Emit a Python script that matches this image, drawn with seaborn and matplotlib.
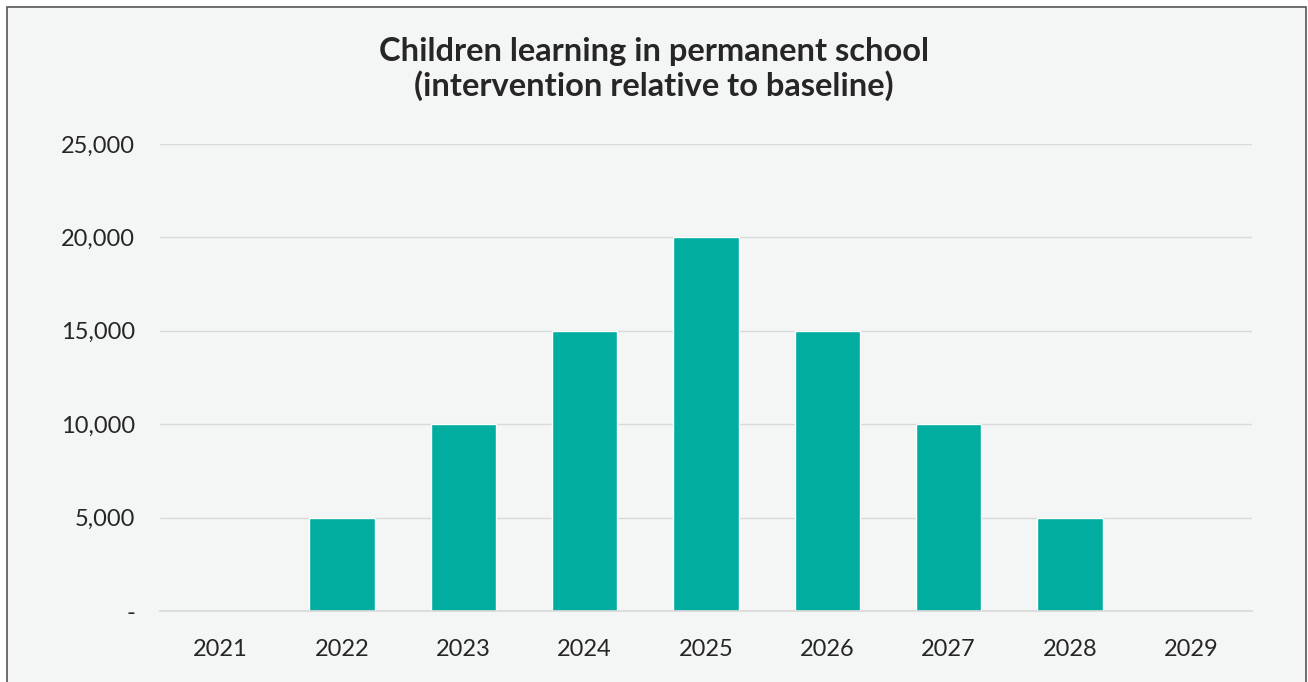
import numpy as np
import pandas as pd
import matplotlib
matplotlib.use("Agg")
import matplotlib.pyplot as plt
import seaborn as sns
from matplotlib.patches import Rectangle
from matplotlib.ticker import FuncFormatter

# data
years = ['2021', '2022', '2023', '2024', '2025', '2026', '2027', '2028', '2029']
children = [0, 5000, 10000, 15000, 20000, 15000, 10000, 5000, 0]
y_ticks = [0, 5000, 10000, 15000, 20000, 25000]

df = pd.DataFrame({'year': years, 'children': children})

bg = '#f4f6f5'
teal = '#00ad9f'
grid = '#d9d9d9'
txt = '#262626'

sns.set_style('white')
plt.rcParams['font.family'] = ['Lato', 'DejaVu Sans']

fig = plt.figure(figsize=(13.08, 6.82), dpi=100)
fig.patch.set_facecolor('white')
# framed panel, bottom edge falls off the canvas
fig.patches.append(Rectangle((7 / 1308, -0.02), 1299 / 1308, 1.02 - 7 / 682, transform=fig.transFigure,
                             facecolor=bg, edgecolor='#555555', linewidth=1.2, zorder=-10))
ax = fig.add_axes([0.1223, 0.1041, 0.8349, 0.6848])
ax.set_facecolor(bg)

sns.barplot(data=df, x='year', y='children', color=teal, width=0.54, saturation=1, ax=ax)

ax.set_ylim(0, 25000)
ax.set_xlim(-0.5, len(years) - 0.5)
ax.set_yticks(y_ticks)
ax.yaxis.set_major_formatter(FuncFormatter(lambda v, p: '-' if v == 0 else f'{int(v):,}'))
ax.grid(axis='y', color=grid, linewidth=1)
ax.set_axisbelow(True)
for s in ['top', 'right', 'left']:
    ax.spines[s].set_visible(False)
ax.spines['bottom'].set_color(grid)
ax.spines['bottom'].set_linewidth(1.2)

# tick marks on category boundaries, labels centred
ax.set_xticks(np.arange(len(years)))
ax.set_xticklabels(years)
ax.tick_params(axis='x', length=0, pad=20, labelsize=17, labelcolor=txt)
ax.set_xticks(np.arange(-0.5, len(years)), minor=True)
ax.tick_params(axis='x', which='minor', length=7, color=grid, width=1.2)
ax.tick_params(axis='y', length=0, pad=18, labelsize=17, labelcolor=txt)
ax.set_xlabel('')
ax.set_ylabel('')

fig.text(0.5, 0.899, 'Children learning in permanent school\n(intervention relative to baseline)',
         ha='center', va='center', fontsize=23.5, fontweight='bold', color=txt, linespacing=1.15)

fig.savefig('out.png', dpi=100, facecolor=fig.get_facecolor())
